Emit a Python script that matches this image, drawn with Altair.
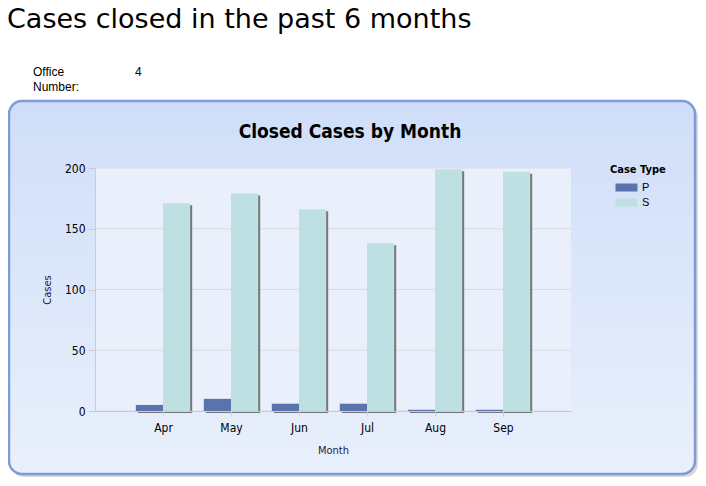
import altair as alt
import pandas as pd

months = ["Apr", "May", "Jun", "Jul", "Aug", "Sep"]
p_cases = [5, 10, 6, 6, 1, 1]
s_cases = [171, 179, 166, 138, 199, 197]
case_types = ["P", "S"]
colors = ["#5a73ad", "#bfe0e2"]
y_ticks = [0, 50, 100, 150, 200]

rows = []
for i, (m, p, s) in enumerate(zip(months, p_cases, s_cases)):
    rows.append({"i": i, "Month": m, "Type": "P", "Cases": p})
    rows.append({"i": i, "Month": m, "Type": "S", "Cases": s})
df = pd.DataFrame(rows)

W, H = 476, 243
FONT = "DejaVu Sans Condensed"
one = pd.DataFrame({"k": [0]})

panel_shadow = alt.Chart(one).mark_rect(
    cornerRadius=13, fill="#b8b8b8", opacity=0.55
).encode(
    x=alt.value(-84), x2=alt.value(603), y=alt.value(-64), y2=alt.value(309)
)

panel = alt.Chart(one).mark_rect(
    cornerRadius=13,
    stroke="#7e9bd7",
    strokeWidth=2.5,
    fill=alt.Gradient(
        gradient="linear",
        x1=0, x2=0, y1=0, y2=1,
        stops=[
            alt.GradientStop(color="#cfdef8", offset=0),
            alt.GradientStop(color="#e9f0fc", offset=1),
        ],
    ),
).encode(x=alt.value(-86), x2=alt.value(600), y=alt.value(-67), y2=alt.value(306))

plot_bg = alt.Chart(one).mark_rect(fill="#eaf0fb").encode(
    x=alt.value(0), x2=alt.value(W), y=alt.value(0), y2=alt.value(H)
)

grid = alt.Chart(pd.DataFrame({"v": y_ticks})).mark_rule(color="#dcdcdc", strokeWidth=1).encode(
    y=alt.Y("v:Q"), x=alt.value(0), x2=alt.value(W)
)

def label(text, x, y, size, font, weight="normal", align="left"):
    return alt.Chart(pd.DataFrame({"t": [text]})).mark_text(
        align=align, baseline="alphabetic", fontSize=size, font=font,
        fontWeight=weight, color="#000"
    ).encode(x=alt.value(x), y=alt.value(y), text="t:N")

header = label("Cases closed in the past 6 months", -88, -140, 27, "DejaVu Sans")
office1 = label("Office", -62, -92, 12, "Liberation Sans")
office2 = label("Number:", -62, -77, 12, "Liberation Sans")
office_val = label("4", 40, -92, 12, "Liberation Sans")
chart_title = label("Closed Cases by Month", 255, -30, 19, FONT, weight="bold", align="center")

label_expr = "[" + ",".join("'%s'" % m for m in months) + "][datum.value]"

x_enc = alt.X(
    "x0:Q",
    scale=alt.Scale(domain=[-1, len(months)], nice=False, zero=False),
    axis=alt.Axis(
        title="Month", values=list(range(len(months))), labelExpr=label_expr,
        labelAngle=0, labelFontSize=12, labelFont=FONT, labelColor="#000",
        titleFontSize=11, titleFont=FONT, titleFontWeight="normal", titleColor="#222244",
        tickColor="#cccccc", tickSize=5, labelPadding=6, titlePadding=11,
        domainColor="#cccccc", grid=False, zindex=1,
    ),
)
y_enc = alt.Y(
    "Cases:Q",
    scale=alt.Scale(domain=[0, 200], nice=False),
    axis=alt.Axis(
        title="Cases", values=y_ticks, labelFontSize=12, labelFont=FONT,
        labelColor="#000", titleFontSize=11, titleFont=FONT, titleFontWeight="normal",
        titleColor="#222244", tickColor="#cccccc", tickSize=7, labelPadding=3,
        titlePadding=12, domainColor="#cccccc", grid=False, zindex=1,
    ),
)

base = alt.Chart(df).transform_calculate(
    x0="datum.Type === 'P' ? datum.i - 0.4 : datum.i",
    x1="datum.Type === 'P' ? datum.i : datum.i + 0.4",
)

shadow = base.mark_bar(
    color="#777777", xOffset=2, x2Offset=2, yOffset=2, y2Offset=2
).encode(x=x_enc, x2="x1:Q", y=y_enc, y2=alt.datum(0))

bars = base.mark_bar().encode(
    x=x_enc,
    x2="x1:Q",
    y=y_enc,
    y2=alt.datum(0),
    color=alt.Color(
        "Type:N",
        sort=case_types,
        scale=alt.Scale(domain=case_types, range=colors),
        legend=alt.Legend(
            title="Case Type", orient="none", legendX=515, legendY=-4,
            titleFont=FONT, titleFontSize=11, titleFontWeight="bold", titleColor="#000",
            labelFont="Liberation Sans", labelFontSize=11, labelColor="#000",
            symbolType="M-2.75,-1L2.75,-1L2.75,1L-2.75,1Z", symbolSize=64,
            symbolOpacity=1, symbolStrokeWidth=0, symbolOffset=11, labelOffset=10,
            rowPadding=3, titlePadding=7, padding=0,
        ),
    ),
)

chart = alt.layer(
    panel_shadow, panel, plot_bg, grid, header, office1, office2, office_val,
    chart_title, shadow, bars
).properties(
    width=W, height=H,
    autosize=alt.AutoSizeParams(type="none"),
    padding={"left": 87, "top": 160, "right": 127, "bottom": 67},
    background="white",
).configure_view(stroke=None)

chart.save("out.html", embed_options={"renderer": "svg", "actions": False})
